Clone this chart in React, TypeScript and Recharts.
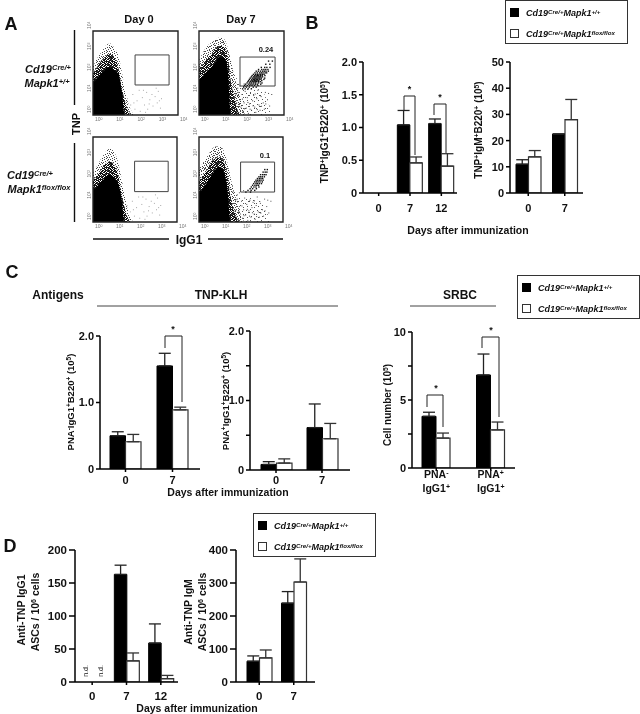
import React from 'react';
import { BarChart, Bar, XAxis, YAxis, ErrorBar, ComposedChart, Area, Scatter, ReferenceArea } from 'recharts';

const FONT = '"Liberation Sans", Arial, sans-serif';

// ---------- bar data ----------
const daysB1 = ['0', '7', '12'];
const b1Ctrl = [0, 1.04, 1.06];
const b1CtrlTop = [0, 1.26, 1.13];
const b1Flox = [0, 0.46, 0.41];
const b1FloxTop = [0, 0.55, 0.6];
const b1Ticks = [0, 0.5, 1, 1.5, 2];
const b1Labels = ['0', '0.5', '1.0', '1.5', '2.0'];

const daysB2 = ['0', '7'];
const b2Ctrl = [11, 22.5];
const b2CtrlTop = [12.7, 22.5];
const b2Flox = [13.8, 28];
const b2FloxTop = [16.2, 35.7];
const b2Ticks = [0, 10, 20, 30, 40, 50];
const b2Labels = ['0', '10', '20', '30', '40', '50'];

const c1Ctrl = [0.5, 1.55];
const c1CtrlTop = [0.56, 1.74];
const c1Flox = [0.41, 0.89];
const c1FloxTop = [0.52, 0.93];
const c1Ticks = [0, 1, 2];
const c1Labels = ['0', '1.0', '2.0'];

const c2Ctrl = [0.08, 0.61];
const c2CtrlTop = [0.12, 0.95];
const c2Flox = [0.1, 0.45];
const c2FloxTop = [0.16, 0.67];
const c2Ticks = [0, 0.5, 1, 1.5, 2];
const c2Labels = ['0', '', '1.0', '', '2.0'];

const catsC3 = ['PNA-', 'PNA+'];
const c3Ctrl = [3.8, 6.84];
const c3CtrlTop = [4.1, 8.38];
const c3Flox = [2.2, 2.8];
const c3FloxTop = [2.57, 3.38];
const c3Ticks = [0, 2.5, 5, 7.5, 10];
const c3Labels = ['0', '', '5', '', '10'];

const d1Ctrl = [0, 163, 59];
const d1CtrlTop = [0, 177, 88];
const d1Flox = [0, 32, 5];
const d1FloxTop = [0, 44, 10];
const d1Ticks = [0, 50, 100, 150, 200];
const d1Labels = ['0', '50', '100', '150', '200'];

const d2Ctrl = [63, 239];
const d2CtrlTop = [79, 274];
const d2Flox = [73, 303];
const d2FloxTop = [97, 373];
const d2Ticks = [0, 100, 200, 300, 400];
const d2Labels = ['0', '100', '200', '300', '400'];

const rows = (cats: string[], a: number[], aTop: number[], b: number[], bTop: number[]) =>
  cats.map((cat, i) => ({
    cat,
    ctrl: a[i],
    flox: b[i],
    ctrlErr: [0, +(aTop[i] - a[i]).toFixed(3)],
    floxErr: [0, +(bTop[i] - b[i]).toFixed(3)],
  }));

// ---------- flow cytometry data (log10 units) ----------
const blobX = [0, 0.2, 0.4, 0.6, 0.8, 1, 1.2, 1.35, 1.5, 1.65, 1.8, 1.95, 2.2, 2.6, 3.0, 3.4];
const a00Core = [1.52, 1.78, 2.0, 2.19, 2.29, 2.14, 1.95, 1.2, 0];
const a00Mid = [2.0, 2.3, 2.6, 2.8, 2.9, 2.75, 2.2, 1.3, 0.7, 0.2, 0];
const a00Light = [2.3, 2.7, 3.0, 3.3, 3.4, 3.2, 2.8, 2.1, 1.2, 0.6, 0.2, 0];
const a07Core = [1.67, 1.88, 2.1, 2.3, 2.55, 2.76, 2.7, 2.2, 0];
const a07Mid = [2.2, 2.45, 2.7, 2.9, 3.2, 3.3, 3.2, 2.8, 1.6, 0.9, 0.3, 0];
const a07Light = [2.6, 3.0, 3.3, 3.45, 3.6, 3.7, 3.6, 3.2, 2.6, 1.9, 1.3, 0.8, 0];
const a07Haze = [2.6, 3.0, 3.3, 3.45, 3.6, 3.7, 3.6, 3.2, 2.6, 2.0, 1.7, 1.5, 1.4, 1.3, 1.1, 0];
const a70Core = [1.5, 1.68, 1.9, 2.1, 2.22, 2.1, 1.8, 1.2, 0];
const a70Mid = [1.95, 2.2, 2.5, 2.75, 2.85, 2.7, 2.2, 1.4, 0.7, 0.2, 0];
const a70Light = [2.3, 2.65, 3.0, 3.3, 3.45, 3.3, 2.8, 2.1, 1.3, 0.6, 0.2, 0];
const a77Core = [1.38, 1.6, 1.9, 2.2, 2.5, 2.6, 2.3, 1.6, 0];
const a77Mid = [1.9, 2.2, 2.5, 2.85, 3.0, 3.05, 2.8, 2.2, 1.2, 0.6, 0.2, 0];
const a77Light = [2.5, 2.8, 3.1, 3.4, 3.55, 3.55, 3.3, 2.8, 2.1, 1.5, 1.0, 0.5, 0];
const a77Haze = [2.5, 2.8, 3.1, 3.4, 3.55, 3.55, 3.3, 2.8, 2.1, 1.6, 1.35, 1.2, 1.15, 1.1, 0.9, 0];
const noHaze: number[] = [];

const clusterHighRows: [number, number[]][] = [
  [1.28, [2.02, 2.14, 2.28, 2.43]],
  [1.36, [2.07, 2.2, 2.33, 2.52, 2.66]],
  [1.44, [2.11, 2.24, 2.36, 2.46, 2.58, 2.74]],
  [1.5, [2.16, 2.31, 2.41, 2.51, 2.62, 2.71, 2.87]],
  [1.56, [2.23, 2.35, 2.44, 2.54, 2.63, 2.77, 2.93]],
  [1.62, [2.27, 2.38, 2.47, 2.55, 2.61, 2.68, 2.76, 2.85]],
  [1.67, [2.3, 2.42, 2.5, 2.57, 2.64, 2.7, 2.78, 2.92]],
  [1.73, [2.34, 2.45, 2.53, 2.59, 2.66, 2.72, 2.8, 2.88, 3.02]],
  [1.79, [2.38, 2.49, 2.56, 2.62, 2.69, 2.75, 2.82, 2.9, 3.06]],
  [1.85, [2.43, 2.54, 2.6, 2.67, 2.74, 2.8, 2.87, 2.96]],
  [1.91, [2.47, 2.58, 2.65, 2.72, 2.78, 2.86, 2.94, 3.07]],
  [1.97, [2.53, 2.63, 2.71, 2.79, 2.87, 2.95, 3.03]],
  [2.04, [2.6, 2.71, 2.82, 2.9, 2.98, 3.08, 3.15]],
  [2.12, [2.66, 2.76, 2.86, 2.96, 3.04, 3.12, 3.23]],
  [2.2, [2.77, 2.92, 3.02, 3.11, 3.21]],
  [2.3, [2.9, 3.06, 3.16, 3.31]],
  [2.45, [3.11, 3.3]],
  [2.6, [3.24, 3.42]],
];
const clusterFloxRows: [number, number[]][] = [
  [1.44, [2.2, 2.42]],
  [1.52, [2.3, 2.45, 2.62]],
  [1.6, [2.4, 2.52, 2.7]],
  [1.68, [2.46, 2.58, 2.68, 2.82]],
  [1.76, [2.52, 2.63, 2.72, 2.8]],
  [1.84, [2.57, 2.68, 2.75, 2.84, 2.94]],
  [1.92, [2.62, 2.7, 2.78, 2.87, 2.98]],
  [2.0, [2.68, 2.76, 2.84, 2.92, 3.02]],
  [2.08, [2.75, 2.84, 2.92, 3.0]],
  [2.16, [2.82, 2.9, 2.98, 3.08]],
  [2.26, [2.9, 3.0, 3.08, 3.16]],
  [2.38, [3.02, 3.12, 3.2]],
  [2.5, [3.1, 3.22]],
];
const flatten = (r: [number, number[]][]) => r.flatMap(([y, xs]) => xs.map((x) => [x, y]));

const sparseDay7 = [
  [1.65, 0.9], [1.7, 0.3], [1.75, 0.6], [1.8, 1.1], [1.85, 0.15], [1.9, 0.75], [1.95, 0.4], [2, 1.0], [2.05, 0.2], [2.1, 0.6],
  [2.15, 1.15], [2.2, 0.35], [2.25, 0.85], [2.3, 0.1], [2.35, 0.55], [2.4, 1.05], [2.45, 0.25], [2.5, 0.7], [2.55, 0.95], [2.6, 0.4],
  [2.65, 0.15], [2.7, 0.8], [2.75, 1.2], [2.8, 0.5], [2.85, 0.25], [2.9, 0.9], [3, 0.6], [3.05, 0.3], [3.1, 1.1], [3.2, 0.75],
  [3.3, 0.45], [3.4, 1.0], [1.8, 1.3], [1.6, 1.45], [1.9, 1.4], [2.1, 1.5], [1.72, 1.02], [1.88, 0.52], [2.02, 0.78], [2.12, 0.32],
  [2.28, 0.62], [2.38, 0.3], [2.52, 0.46], [2.62, 1.02], [2.72, 0.28], [2.92, 0.44], [3.12, 0.55], [3.25, 1.05], [1.62, 0.5], [1.78, 0.12],
];
const sparseDay0 = [
  [1.75, 0.5], [1.85, 1.0], [1.95, 0.3], [2.05, 0.7], [2.15, 1.2], [2.2, 0.2], [2.3, 0.85], [2.4, 0.5], [2.5, 1.1], [2.55, 0.3],
  [2.65, 0.75], [2.75, 1.0], [2.8, 0.45], [2.9, 0.9], [3, 0.6], [3.05, 1.15], [3.15, 0.35], [3.2, 0.8], [1.7, 0.15], [2.45, 0.15],
  [2.95, 1.3], [2.35, 1.2], [2.62, 0.55], [3.1, 0.7], [1.6, 0.8], [1.9, 0.6],
];

// stipple tiles
const lightDots = [[0, 0], [2, 0], [5, 0], [8, 1], [3, 1], [1, 2], [6, 2], [9, 3], [4, 3], [0, 4], [2, 4], [7, 4], [5, 5], [9, 5], [1, 6], [3, 6], [7, 6], [0, 7], [5, 7], [8, 8], [2, 8], [4, 9], [6, 9]];
const midDots = [[0, 0], [1, 0], [3, 0], [4, 0], [2, 1], [3, 1], [5, 1], [0, 2], [1, 2], [4, 2], [5, 2], [1, 3], [2, 3], [3, 3], [5, 3], [0, 4], [3, 4], [4, 4], [1, 5], [2, 5], [4, 5], [5, 5]];
const hazeDots = [[0, 1], [4, 0], [7, 3], [2, 5], [5, 7], [9, 6], [1, 9], [8, 10], [10, 1], [5, 3]];

// ---------- text helpers ----------
type TxtProps = { x: number; y: number; size?: number; rot?: boolean; color?: string; italic?: boolean; weight?: string; children: React.ReactNode };
const Txt = ({ x, y, size = 11, rot, color = '#111', italic, weight = 'bold', children }: TxtProps) => (
  <div style={{ position: 'absolute', left: x, top: y, transform: `translate(-50%,-50%)${rot ? ' rotate(-90deg)' : ''}`, whiteSpace: 'nowrap', fontFamily: FONT, fontSize: size, fontWeight: weight as any, fontStyle: italic ? 'italic' : 'normal', color, lineHeight: 1, zIndex: 5 }}>{children}</div>
);
const Sup = ({ children }: { children: React.ReactNode }) => (
  <sup style={{ fontSize: '0.68em', lineHeight: 0, verticalAlign: 'baseline', position: 'relative', top: '-0.4em' }}>{children}</sup>
);
const Geno = ({ kind }: { kind: 'ctrl' | 'flox' }) => (
  <>Cd19<Sup>Cre/+</Sup>Mapk1<Sup>{kind === 'ctrl' ? '+/+' : 'flox/flox'}</Sup></>
);
const LegendBox = ({ x, y, w, h }: { x: number; y: number; w: number; h: number }) => (
  <div style={{ position: 'absolute', left: x, top: y, width: w, height: h, boxSizing: 'border-box', border: '1.5px solid #333', background: '#fff', zIndex: 4 }}>
    <div style={{ position: 'absolute', left: 4, top: 7, width: 9, height: 9, background: '#000' }} />
    <div style={{ position: 'absolute', left: 4, top: 28, width: 9, height: 9, border: '1px solid #333', boxSizing: 'border-box', background: '#fff' }} />
    <div style={{ position: 'absolute', left: 20, top: 7, fontFamily: FONT, fontSize: 9, fontWeight: 'bold', fontStyle: 'italic', lineHeight: '10px', whiteSpace: 'nowrap', color: '#111' }}><Geno kind="ctrl" /></div>
    <div style={{ position: 'absolute', left: 20, top: 28, fontFamily: FONT, fontSize: 9, fontWeight: 'bold', fontStyle: 'italic', lineHeight: '10px', whiteSpace: 'nowrap', color: '#111' }}><Geno kind="flox" /></div>
  </div>
);

// ---------- bar panel ----------
type BarPanelProps = {
  x: number; y: number; w: number; h: number;
  data: any[]; max: number; ticks: number[]; labels: string[];
  barSize: number; pad?: { left: number; right: number };
  labelGap: number; xTick?: any; fontSize?: number; ySize?: number;
};
const BarPanel = ({ x, y, w, h, data, max, ticks, labels, barSize, pad, labelGap, xTick, fontSize = 11, ySize = 4 }: BarPanelProps) => {
  const L = 40, T = 8, R = 8, B = 40;
  const axisStyle = { stroke: '#000', strokeWidth: 1.5 };
  const tickFont = { fontFamily: FONT, fontSize, fontWeight: 'bold', fill: '#111' };
  return (
    <div style={{ position: 'absolute', left: x - L, top: y - T }}>
      <BarChart width={w + L + R} height={h + T + B} data={data} margin={{ top: T, right: R, bottom: 0, left: 0 }} barGap={0} barCategoryGap={0}>
        <XAxis dataKey="cat" height={B} interval={0} padding={pad ?? { left: 0, right: 0 }} axisLine={axisStyle} tickLine={axisStyle} tickSize={3} tickMargin={labelGap} tick={xTick ?? tickFont} />
        <YAxis type="number" width={L} domain={[0, max]} ticks={ticks} interval={0} allowDataOverflow axisLine={axisStyle} tickLine={axisStyle} tickSize={ySize} tickMargin={2} tick={tickFont} tickFormatter={(v: number) => labels[ticks.indexOf(v)] ?? ''} />
        <Bar dataKey="ctrl" fill="#000" stroke="#000" strokeWidth={1} barSize={barSize} isAnimationActive={false}>
          <ErrorBar dataKey="ctrlErr" direction="y" width={6} stroke="#222" strokeWidth={1.3} isAnimationActive={false} />
        </Bar>
        <Bar dataKey="flox" fill="#fff" stroke="#333" strokeWidth={1.2} barSize={barSize} isAnimationActive={false}>
          <ErrorBar dataKey="floxErr" direction="y" width={6} stroke="#333" strokeWidth={1.3} isAnimationActive={false} />
        </Bar>
      </BarChart>
    </div>
  );
};

// ---------- flow panel ----------
type FlowProps = {
  id: string; x: number; y: number; w: number; h: number;
  core: number[]; mid: number[]; light: number[]; haze: number[];
  gate: number[];
  pts: number[][]; ptsDark?: number[][]; ptColor: string;
};
const FlowTickX = ({ x, y, payload }: any) => (
  <text x={x + 2} y={y - 2} fontFamily={FONT} fontSize={5} fill="#777">10<tspan fontSize={3.5} dy={-1.5}>{payload.value}</tspan></text>
);
const FlowTickY = ({ x, y, payload }: any) => (
  <text transform={`translate(${x + 6},${y - 2}) rotate(-90)`} fontFamily={FONT} fontSize={5} fill="#777">10<tspan fontSize={3.5} dy={-1.5}>{payload.value}</tspan></text>
);
const dot = (c: string, s: number) => (p: any) => <rect x={p.cx} y={p.cy} width={s} height={s} fill={c} />;
const Tile = ({ id, size, dots, color }: { id: string; size: number; dots: number[][]; color: string }) => (
  <pattern id={id} width={size} height={size} patternUnits="userSpaceOnUse">
    {dots.map(([a, b], i) => <rect key={i} x={a} y={b} width={1} height={1} fill={color} />)}
  </pattern>
);
const FlowPanel = ({ id, x, y, w, h, core, mid, light, haze, gate, pts, ptsDark, ptColor }: FlowProps) => {
  const L = 16, T = 14, R = 14, B = 18;
  const envelope = blobX.map((bx, i) => ({ x: bx, core: core[i] ?? 0, mid: mid[i] ?? 0, light: light[i] ?? 0, haze: haze[i] ?? 0 }));
  const layer = { type: 'monotone' as const, stroke: 'none', fillOpacity: 1, dot: false, activeDot: false, isAnimationActive: false };
  return (
    <div style={{ position: 'absolute', left: x - L, top: y - T }}>
      <ComposedChart width={w + L + R} height={h + T + B} data={envelope} margin={{ top: T, right: R, bottom: 0, left: 0 }}>
        <defs>
          <Tile id={`hz${id}`} size={11} dots={hazeDots} color="#555" />
          <Tile id={`lt${id}`} size={10} dots={lightDots} color="#444" />
          <Tile id={`md${id}`} size={6} dots={midDots} color="#111" />
        </defs>
        <XAxis type="number" dataKey="x" domain={[0, 4]} ticks={[0, 1, 2, 3, 4]} interval={0} height={B} axisLine={false} tickLine={false} tick={<FlowTickX />} allowDataOverflow />
        <YAxis type="number" domain={[0, 4]} ticks={[0, 1, 2, 3, 4]} interval={0} width={L} axisLine={false} tickLine={false} tick={<FlowTickY />} allowDataOverflow />
        <Area dataKey="haze" {...layer} fill={`url(#hz${id})`} />
        <Area dataKey="light" {...layer} fill={`url(#lt${id})`} />
        <Area dataKey="mid" {...layer} fill={`url(#md${id})`} />
        <Area dataKey="core" {...layer} fill="#000" />
        <ReferenceArea x1={0} x2={4} y1={0} y2={4} fill="none" stroke="#222" strokeWidth={1.4} ifOverflow="visible" />
        <ReferenceArea x1={gate[0]} x2={gate[1]} y1={gate[2]} y2={gate[3]} fill="none" stroke="#444" strokeWidth={1} />
        <Scatter data={pts.map(([px, py]) => ({ x: px, y: py }))} dataKey="y" shape={dot(ptColor, 1)} isAnimationActive={false} />
        {ptsDark && <Scatter data={ptsDark.map(([px, py]) => ({ x: px, y: py }))} dataKey="y" shape={dot('#111', 1.4)} isAnimationActive={false} />}
      </ComposedChart>
    </div>
  );
};

const C3Tick = ({ x, y, payload }: any) => {
  const sign = String(payload.value).slice(-1) === '-' ? '-' : '+';
  const f = { fontFamily: FONT, fontSize: 10.5, fontWeight: 'bold', fill: '#111', textAnchor: 'middle' as const };
  return (
    <g>
      <text x={x} y={y + 6} {...f}>PNA<tspan fontSize={7} dy={-3}>{sign}</tspan></text>
      <text x={x} y={y + 20} {...f}>IgG1<tspan fontSize={7} dy={-3}>+</tspan></text>
    </g>
  );
};

// ---------- brackets and rule lines (annotation only) ----------
const brackets = [
  [404, 415, 96, 110, 155, 409.5, 92],
  [434, 446, 104, 115, 153, 440, 100],
  [165, 182, 336, 348, 402, 173, 332],
  [427, 443, 395, 407, 427, 436, 391],
  [482, 499, 337, 348, 417, 491, 333],
];
const rules = [
  [74.5, 30, 74.5, 105], [74.5, 143, 74.5, 222],
  [93, 239, 169, 239], [208, 239, 283, 239],
  [97, 306, 338, 306], [410, 306, 496, 306],
];

export default function App() {
  return (
    <div style={{ position: 'absolute', left: 0, top: 0, width: 640, height: 714, background: '#fff', overflow: 'hidden', filter: 'blur(0.45px)' }}>
      {/* A */}
      <FlowPanel id="a" x={93} y={31} w={85} h={84} core={a00Core} mid={a00Mid} light={a00Light} haze={noHaze} gate={[1.98, 3.58, 1.43, 2.86]} pts={sparseDay0} ptColor="#aaa" />
      <FlowPanel id="b" x={199} y={31} w={85} h={84} core={a07Core} mid={a07Mid} light={a07Light} haze={a07Haze} gate={[1.93, 3.58, 1.38, 2.76]} pts={sparseDay7} ptsDark={flatten(clusterHighRows)} ptColor="#444" />
      <FlowPanel id="c" x={93} y={137} w={84} h={85} core={a70Core} mid={a70Mid} light={a70Light} haze={noHaze} gate={[1.98, 3.58, 1.43, 2.86]} pts={sparseDay0} ptColor="#aaa" />
      <FlowPanel id="d" x={199} y={137} w={84} h={85} core={a77Core} mid={a77Mid} light={a77Light} haze={a77Haze} gate={[1.98, 3.6, 1.41, 2.82]} pts={sparseDay7} ptsDark={flatten(clusterFloxRows)} ptColor="#555" />

      {/* B */}
      <BarPanel x={363} y={62} w={94} h={131} data={rows(daysB1, b1Ctrl, b1CtrlTop, b1Flox, b1FloxTop)} max={2} ticks={b1Ticks} labels={b1Labels} barSize={12.5} labelGap={8} />
      <BarPanel x={510} y={62} w={73} h={131} data={rows(daysB2, b2Ctrl, b2CtrlTop, b2Flox, b2FloxTop)} max={50} ticks={b2Ticks} labels={b2Labels} barSize={12.5} labelGap={8} />

      {/* C */}
      <BarPanel x={100} y={336} w={100} h={133} data={rows(daysB2, c1Ctrl, c1CtrlTop, c1Flox, c1FloxTop)} max={2} ticks={c1Ticks} labels={c1Labels} barSize={15.5} pad={{ left: 2, right: 4 }} labelGap={4} />
      <BarPanel x={250} y={331} w={100} h={139} data={rows(daysB2, c2Ctrl, c2CtrlTop, c2Flox, c2FloxTop)} max={2} ticks={c2Ticks} labels={c2Labels} barSize={15.5} pad={{ left: 3, right: 5 }} labelGap={3} />
      <BarPanel x={412} y={332} w={103} h={136} data={rows(catsC3, c3Ctrl, c3CtrlTop, c3Flox, c3FloxTop)} max={10} ticks={c3Ticks} labels={c3Labels} barSize={14} pad={{ left: -3, right: -3 }} labelGap={1} xTick={<C3Tick />} />

      {/* D */}
      <BarPanel x={75} y={550} w={103} h={132} data={rows(daysB1, d1Ctrl, d1CtrlTop, d1Flox, d1FloxTop)} max={200} ticks={d1Ticks} labels={d1Labels} barSize={12.5} labelGap={7} fontSize={11.5} ySize={6} />
      <BarPanel x={236} y={550} w={79} h={132} data={rows(daysB2, d2Ctrl, d2CtrlTop, d2Flox, d2FloxTop)} max={400} ticks={d2Ticks} labels={d2Labels} barSize={12.5} pad={{ left: 6, right: 4 }} labelGap={7} fontSize={11.5} ySize={6} />

      {/* annotation overlay */}
      <svg width={640} height={714} style={{ position: 'absolute', left: 0, top: 0, zIndex: 3, pointerEvents: 'none' }}>
        {rules.map(([a, b, c, d], i) => (
          <line key={i} x1={a} y1={b} x2={c} y2={d} stroke={i > 3 ? '#444' : '#111'} strokeWidth={i > 3 ? 1 : 1.4} />
        ))}
        {brackets.map(([l, r, top, dl, dr, sx, sy], i) => (
          <g key={i}>
            <path d={`M${l} ${dl} V${top} H${r} V${dr}`} fill="none" stroke="#222" strokeWidth={1} />
            <text x={sx} y={sy} textAnchor="middle" fontFamily={FONT} fontSize={9} fontWeight="bold" fill="#111">*</text>
          </g>
        ))}
      </svg>

      {/* panel letters */}
      <Txt x={11} y={24} size={18}>A</Txt>
      <Txt x={312} y={23} size={18}>B</Txt>
      <Txt x={12} y={272} size={18}>C</Txt>
      <Txt x={10} y={546} size={18}>D</Txt>

      {/* A text */}
      <Txt x={139} y={19} size={11}>Day 0</Txt>
      <Txt x={241} y={19} size={11}>Day 7</Txt>
      <Txt x={48} y={69} size={11} italic>Cd19<Sup>Cre/+</Sup></Txt>
      <Txt x={47} y={83} size={11} italic>Mapk1<Sup>+/+</Sup></Txt>
      <Txt x={30} y={175} size={11} italic>Cd19<Sup>Cre/+</Sup></Txt>
      <Txt x={39} y={189} size={11} italic>Mapk1<Sup>flox/flox</Sup></Txt>
      <Txt x={76} y={124} size={11} rot>TNP</Txt>
      <Txt x={189} y={240} size={12}>IgG1</Txt>
      <Txt x={266} y={50} size={7.5}>0.24</Txt>
      <Txt x={265} y={156} size={7.5}>0.1</Txt>

      {/* B text */}
      <Txt x={325} y={132} size={10} rot>TNP<Sup>+</Sup>IgG1<Sup>+</Sup>B220<Sup>+</Sup> (10<Sup>5</Sup>)</Txt>
      <Txt x={479} y={130} size={10} rot>TNP<Sup>+</Sup>IgM<Sup>+</Sup>B220<Sup>+</Sup> (10<Sup>5</Sup>)</Txt>
      <Txt x={468} y={230} size={10.5}>Days after immunization</Txt>

      {/* C text */}
      <Txt x={58} y={295} size={12}>Antigens</Txt>
      <Txt x={221} y={295} size={12}>TNP-KLH</Txt>
      <Txt x={460} y={295} size={12}>SRBC</Txt>
      <Txt x={71} y={402} size={9.5} rot>PNA<Sup>-</Sup>IgG1<Sup>+</Sup>B220<Sup>+</Sup> (10<Sup>5</Sup>)</Txt>
      <Txt x={226} y={401} size={9.5} rot>PNA<Sup>+</Sup>IgG1<Sup>+</Sup>B220<Sup>+</Sup> (10<Sup>5</Sup>)</Txt>
      <Txt x={388} y={405} size={10} rot>Cell number (10<Sup>5</Sup>)</Txt>
      <Txt x={228} y={492} size={10.5}>Days after immunization</Txt>

      {/* D text */}
      <Txt x={21} y={610} size={10.5} rot>Anti-TNP IgG1</Txt>
      <Txt x={35} y={612} size={10.5} rot>ASCs / 10<Sup>6</Sup> cells</Txt>
      <Txt x={188} y={612} size={10.5} rot>Anti-TNP IgM</Txt>
      <Txt x={202} y={612} size={10.5} rot>ASCs / 10<Sup>6</Sup> cells</Txt>
      <Txt x={85} y={671} size={7} weight="normal" rot>n.d.</Txt>
      <Txt x={100} y={671} size={7} weight="normal" rot>n.d.</Txt>
      <Txt x={197} y={708} size={10.5}>Days after immunization</Txt>

      {/* legends */}
      <LegendBox x={505} y={0} w={123} h={44} />
      <LegendBox x={517} y={275} w={123} h={44} />
      <LegendBox x={253} y={513} w={123} h={44} />
    </div>
  );
}
